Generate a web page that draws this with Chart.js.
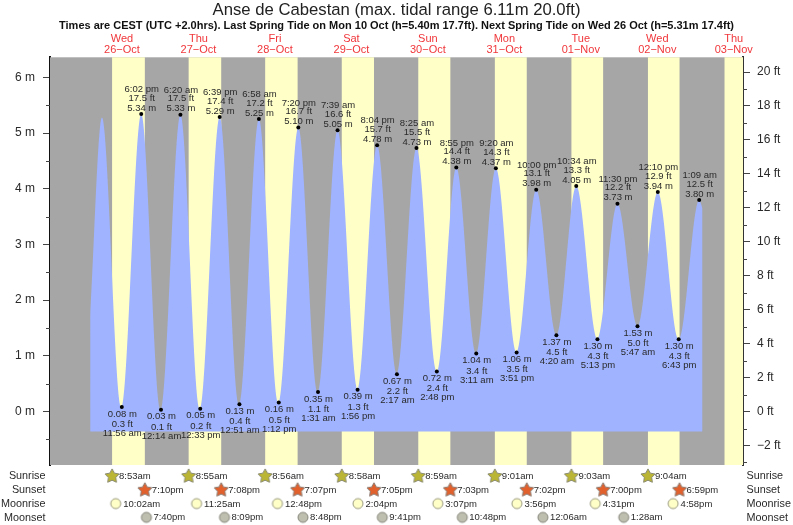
<!DOCTYPE html>
<html><head><meta charset="utf-8">
<script src="https://cdn.jsdelivr.net/npm/chart.js@4/dist/chart.umd.js"></script>
<style>html,body{margin:0;padding:0;background:#fff}canvas{display:block}</style>
</head><body><canvas id="c" width="793" height="525"></canvas>
<script>
const titleText = "Anse de Cabestan (max. tidal range 6.11m 20.0ft)";
const subtitleText = "Times are CEST (UTC +2.0hrs). Last Spring Tide on Mon 10 Oct (h=5.40m 17.7ft). Next Spring Tide on Wed 26 Oct (h=5.31m 17.4ft)";
const dayNames = ["Wed","Thu","Fri","Sat","Sun","Mon","Tue","Wed","Thu"];
const dayDates = ["26\u2212Oct","27\u2212Oct","28\u2212Oct","29\u2212Oct","30\u2212Oct","31\u2212Oct","01\u2212Nov","02\u2212Nov","03\u2212Nov"];

// tide extrema: day index from 26 Oct, clock time, metres, feet
const extremaDays = [0,0, 1,1,1,1, 2,2,2,2, 3,3,3,3, 4,4,4,4, 5,5,5,5, 6,6,6,6, 7,7,7, 8];
const extremaTime = ["11:56 am","6:02 pm","12:14 am","6:20 am","12:33 pm","6:39 pm","12:51 am","6:58 am","1:12 pm","7:20 pm","1:31 am","7:39 am","1:56 pm","8:04 pm","2:17 am","8:25 am","2:48 pm","8:55 pm","3:11 am","9:20 am","3:51 pm","10:00 pm","4:20 am","10:34 am","5:13 pm","11:30 pm","5:47 am","12:10 pm","6:43 pm","1:09 am"];
const extremaM    = ["0.08","5.34","0.03","5.33","0.05","5.29","0.13","5.25","0.16","5.10","0.35","5.05","0.39","4.78","0.67","4.73","0.72","4.38","1.04","4.37","1.06","3.98","1.37","4.05","1.30","3.73","1.53","3.94","1.30","3.80"];
const extremaFt   = ["0.3","17.5","0.1","17.5","0.2","17.4","0.4","17.2","0.5","16.7","1.1","16.6","1.3","15.7","2.2","15.5","2.4","14.4","3.4","14.3","3.5","13.1","4.5","13.3","4.3","12.2","5.0","12.9","4.3","12.5"];
// where the drawn curve begins and ends, hours from 26 Oct 00:00 and metres
const curveStart = {h:2.0, m:1.7};
const firstPeak  = {h:5.7, m:5.28};
const curveEnd   = {h:194.2, m:3.65};
const fillBase = -0.36;

const sunriseDays = [0,1,2,3,4,5,6,7,8];
const sunriseTimes = ["8:53am","8:55am","8:56am","8:58am","8:59am","9:01am","9:03am","9:04am","9:06am"];
const sunsetDays = [0,1,2,3,4,5,6,7];
const sunsetTimes = ["7:10pm","7:08pm","7:07pm","7:05pm","7:03pm","7:02pm","7:00pm","6:59pm"];
const moonriseDays = [0,1,2,3,4,5,6,7];
const moonriseTimes = ["10:02am","11:25am","12:48pm","2:04pm","3:07pm","3:56pm","4:31pm","4:58pm"];
const moonsetDays = [0,1,2,3,4,6,7];
const moonsetTimes = ["7:40pm","8:09pm","8:48pm","9:41pm","10:48pm","12:06am","1:28am"];
const rowNames = ["Sunrise","Sunset","Moonrise","Moonset"];

const C = {night:"#a6a6a6", day:"#ffffc8", tide:"#9fb3ff", text:"#2a2a2a", red:"#f0363a"};
const FONT = '"Liberation Sans", Arial, sans-serif';
const M2FT = 3.28084, YMIN = -0.96, YMAX = 6.36;

function hours(day, s){
  const m = s.match(/(\d+):(\d+)\s*(am|pm)/);
  let h = (+m[1]) % 12; if (m[3]==="pm") h += 12;
  return day*24 + h + (+m[2])/60;
}
const extremaPts = extremaTime.map((t,i)=>({x:hours(extremaDays[i],t), y:parseFloat(extremaM[i])}));
const tidePts = [{x:curveStart.h,y:curveStart.m},{x:firstPeak.h,y:firstPeak.m},...extremaPts,{x:curveEnd.h,y:curveEnd.m}];

function iconCanvas(kind, fill, stroke){
  const c = document.createElement("canvas"); c.width = c.height = 18;
  const g = c.getContext("2d"); g.fillStyle = fill; g.strokeStyle = stroke; g.lineWidth = 1;
  g.beginPath();
  if (kind==="star"){
    for (let i=0;i<10;i++){
      const r = i%2 ? 3.9 : 7.4, a = -Math.PI/2 + i*Math.PI/5;
      g[i?"lineTo":"moveTo"](9+r*Math.cos(a), 9.3+r*Math.sin(a));
    }
    g.closePath();
  } else g.arc(9,9,5,0,Math.PI*2);
  g.fill(); g.stroke();
  return c;
}
const rowSets = [
  {days:sunriseDays.slice(0,8), times:sunriseTimes.slice(0,8), icon:iconCanvas("star","#bab534","#8a8a70"), dx:7},
  {days:sunsetDays, times:sunsetTimes, icon:iconCanvas("star","#e2602c","#8a7a70"), dx:7},
  {days:moonriseDays, times:moonriseTimes, icon:iconCanvas("moon","#ffffc8","#9a9a80"), dx:7.5},
  {days:moonsetDays, times:moonsetTimes, icon:iconCanvas("moon","#bfbfb0","#85857a"), dx:7}
];

const bandsPlugin = {
  id:"bands",
  beforeDatasetsDraw(chart){
    const {ctx, chartArea:a, scales:{x}} = chart;
    ctx.save();
    ctx.fillStyle = C.night; ctx.fillRect(a.left,a.top,a.width,a.height);
    ctx.fillStyle = C.day;
    sunriseDays.forEach((d,i)=>{
      const x0 = x.getPixelForValue(hours(d,sunriseTimes[i]));
      const x1 = i<sunsetTimes.length ? x.getPixelForValue(hours(sunsetDays[i],sunsetTimes[i])) : a.right;
      ctx.fillRect(x0,a.top,x1-x0,a.height);
    });
    ctx.restore();
  }
};
const textPlugin = {
  id:"texts",
  afterDatasetsDraw(chart){
    const {ctx, chartArea:a, scales:{x,y,y2,yRows}} = chart;
    ctx.save();
    // minor ticks
    ctx.strokeStyle = "#444"; ctx.lineWidth = 1;
    for (let m=-0.5;m<=6;m+=1){ const p=Math.round(y.getPixelForValue(m))+.5; ctx.beginPath();ctx.moveTo(a.left-4,p);ctx.lineTo(a.left,p);ctx.stroke(); }
    for (let f=-3;f<=20;f+=2){ const p=Math.round(y2.getPixelForValue(f))+.5; ctx.beginPath();ctx.moveTo(a.right,p);ctx.lineTo(a.right+4,p);ctx.stroke(); }
    // extrema labels
    ctx.font = "9.5px "+FONT; ctx.fillStyle = C.text; ctx.textAlign = "center"; ctx.textBaseline = "middle";
    extremaPts.forEach((p,i)=>{
      const px = x.getPixelForValue(p.x), py = y.getPixelForValue(p.y);
      const high = i%2===1;
      const lines = high ? [[extremaTime[i],-24.5],[extremaFt[i]+" ft",-16],[extremaM[i]+" m",-6]]
                         : [[extremaM[i]+" m",7],[extremaFt[i]+" ft",17.3],[extremaTime[i],26.3]];
      lines.forEach(([t,o])=>ctx.fillText(t,px+.5,py+o));
    });
    // almanac rows: icons are the datasets' own point elements, drawn outside the plot area
    const whole = {left:0,top:0,right:chart.width,bottom:chart.height};
    rowSets.forEach((s,r)=>{
      chart.getDatasetMeta(2+r).data.forEach(el=>el.draw(ctx,whole));
      const py = yRows.getPixelForValue(r);
      s.times.forEach((t,i)=>{
        ctx.font = "9.5px "+FONT; ctx.textAlign = "left"; ctx.fillStyle = C.text;
        ctx.fillText(t, x.getPixelForValue(hours(s.days[i],t))+s.dx, py+.5);
      });
      ctx.font = "10.8px "+FONT; ctx.fillStyle = C.text;
      ctx.textAlign = "right"; ctx.fillText(rowNames[r],45.5,py+.5);
      ctx.textAlign = "left"; ctx.fillText(rowNames[r],746.5,py+.5);
    });
    ctx.restore();
  }
};

const datasets = [
  {type:"line", label:"Tide", data:tidePts, cubicInterpolationMode:"monotone", borderWidth:0, pointRadius:0,
   backgroundColor:C.tide, fill:{value:fillBase}, yAxisID:"y", order:5},
  {type:"scatter", label:"High/Low", data:extremaPts, pointRadius:2, pointBackgroundColor:"#000", pointBorderWidth:0, yAxisID:"y", order:1}
];
rowSets.forEach((s,r)=>datasets.push({
  type:"scatter", label:rowNames[r], yAxisID:"yRows", clip:false, order:0,
  data:s.times.map((t,i)=>({x:hours(s.days[i],t), y:r})),
  pointStyle:s.icon
}));

new Chart(document.getElementById("c"),{
  data:{datasets},
  plugins:[bandsPlugin,textPlugin],
  options:{
    responsive:false, animation:false, devicePixelRatio:1,
    layout:{padding:{top:2,bottom:60,left:0,right:0}},
    events:[],
    plugins:{
      legend:{display:false}, tooltip:{enabled:false},
      title:{display:true,text:titleText,color:"#222",font:{family:FONT,size:16.7,weight:"normal",lineHeight:1},padding:{top:0,bottom:1}},
      subtitle:{display:true,text:subtitleText,color:"#111",font:{family:FONT,size:11,weight:"bold",lineHeight:1.1},padding:{top:0,bottom:0}}
    },
    scales:{
      x:{type:"linear",position:"top",min:-10.6,max:206.9,
        afterBuildTicks(s){ s.ticks = dayNames.map((_,i)=>({value:i*24+12})); },
        afterFit(s){ s.height = 25.5; },
        ticks:{autoSkip:false,maxRotation:0,minRotation:0,padding:1,color:C.red,font:{family:FONT,size:11,lineHeight:1.08},
          callback(v){ const i=Math.round((v-12)/24); return [dayNames[i],dayDates[i]]; }},
        grid:{display:false,drawTicks:false}, border:{display:false}},
      y:{type:"linear",position:"left",min:YMIN,max:YMAX,
        afterFit(s){ s.width = 50; },
        ticks:{stepSize:1,includeBounds:false,padding:8,color:C.text,font:{family:FONT,size:12},callback:v=>v+" m"},
        grid:{drawOnChartArea:false,tickLength:7,tickColor:"#444"},border:{color:"#111",width:2}},
      y2:{type:"linear",position:"right",min:YMIN*M2FT,max:YMAX*M2FT,
        afterFit(s){ s.width = 50; },
        ticks:{stepSize:2,includeBounds:false,padding:7,color:C.text,font:{family:FONT,size:12},callback:v=>String(v).replace("-","\u2212")+" ft"},
        grid:{drawOnChartArea:false,tickLength:7,tickColor:"#444"},border:{color:"#333",width:2}},
      yRows:{type:"linear",axis:"y",display:false,reverse:true,min:-30.36,max:-0.797}
    }
  }
});
</script></body></html>
